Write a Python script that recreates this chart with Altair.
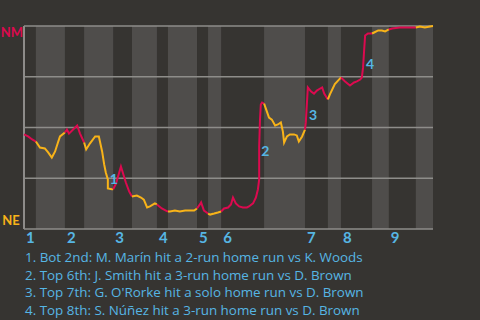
import altair as alt
import pandas as pd

RED = "#dc0a4f"
ORANGE = "#f8b319"
BLUE = "#56b6e4"
BG = "#363431"
BAND = "#4f4d4b"
GRID = "#8e8d8a"
FONT = "Lato"

# Half innings (x = game progress, %), T = NM batting, B = NE batting
half_names = ["T1", "B1", "T2", "B2", "T3", "B3", "T4", "B4", "T5", "B5",
              "T6", "B6", "T7", "B7", "T8", "B8", "T9", "B9"]
half_start = [0, 2.9, 10.0, 14.7, 21.8, 26.4, 32.5, 35.2, 42.3, 45.0,
              48.2, 58.7, 68.7, 74.3, 77.5, 85.1, 89.2, 95.8]
half_end = half_start[1:] + [100]

innings = ["1", "2", "3", "4", "5", "6", "7", "8", "9"]
inning_start = [0, 10.0, 21.8, 32.5, 42.3, 48.2, 68.7, 77.5, 89.2]

# NM win probability (%) per half inning
win_t = [
    [0, 1.0, 2.0, 2.9],
    [2.9, 3.9, 5.1, 5.9, 6.8, 7.6, 8.3, 8.8, 10.0],
    [10.0, 10.5, 11.0, 12.0, 13.0, 13.7, 14.7],
    [14.7, 15.2, 16.1, 17.4, 18.3, 19.1, 19.6, 20.0, 20.5, 20.5, 21.5, 21.8],
    [21.8, 22.5, 23.7, 24.9, 25.7, 26.4],
    [26.4, 27.6, 28.6, 29.3, 30.1, 30.8, 32.0, 32.5],
    [32.5, 33.7, 34.7, 35.2],
    [35.2, 35.7, 36.9, 38.1, 39.4, 40.6, 41.6, 42.3],
    [42.3, 43.0, 43.3, 44.0, 45.0],
    [45.0, 45.5, 46.5, 47.4, 48.2],
    [48.2, 48.9, 49.9, 50.6, 51.1, 51.8, 52.6, 53.5, 54.5, 55.0, 56.0, 56.7,
     57.2, 57.5, 57.5, 57.7, 57.9, 58.2, 58.7],
    [58.7, 59.2, 59.9, 60.6, 61.4, 62.1, 62.8, 63.3, 63.6, 64.3, 65.0, 66.0,
     66.7, 67.2, 68.0, 68.7],
    [68.7, 68.9, 69.4, 70.2, 70.9, 71.6, 72.4, 72.9, 73.4, 74.3],
    [74.3, 74.8, 76.0, 77.0, 77.5],
    [77.5, 78.5, 79.7, 80.7, 81.4, 82.2, 82.6, 82.9, 83.1, 83.4, 84.1, 85.1],
    [85.1, 85.6, 86.6, 87.5, 88.3, 89.2],
    [89.2, 90.0, 91.9, 94.4, 95.8],
    [95.8, 96.8, 98.0, 99.3, 100],
]
win_p = [
    [46.6, 45.6, 44.1, 43.1],
    [43.1, 40.1, 39.7, 37.7, 35.2, 38.2, 42.6, 45.6, 47.5],
    [47.5, 49.0, 47.0, 49.0, 51.0, 47.0, 42.6],
    [42.6, 39.2, 42.1, 45.6, 45.6, 38.2, 31.8, 27.8, 24.4, 20.0, 19.6, 19.6],
    [19.6, 22.4, 30.8, 22.9, 18.5, 16.0],
    [16.0, 16.5, 15.5, 14.5, 10.6, 11.1, 12.6, 12.1],
    [12.1, 10.1, 9.1, 8.6],
    [8.6, 8.6, 9.1, 8.6, 9.1, 9.1, 9.1, 10.1],
    [10.1, 12.1, 13.1, 9.1, 7.6],
    [7.6, 7.1, 7.6, 8.1, 8.6],
    [8.6, 10.1, 10.6, 12.1, 15.5, 12.6, 11.1, 10.6, 10.6, 11.1, 12.6, 15.5,
     19.6, 24.4, 40.6, 53.9, 61.3, 62.3, 61.8],
    [61.8, 58.9, 54.9, 53.9, 51.0, 51.5, 52.5, 48.0, 42.6, 45.6, 46.6, 46.6,
     46.1, 43.1, 45.6, 49.0],
    [49.0, 52.5, 69.7, 67.7, 66.7, 68.2, 69.2, 69.7, 66.7, 63.8],
    [63.8, 66.3, 71.4, 73.6, 74.6],
    [74.6, 72.7, 70.7, 72.2, 72.7, 73.6, 74.6, 79.6, 86.0, 95.3, 96.3, 96.3],
    [96.3, 96.8, 97.8, 97.8, 97.3, 98.3],
    [98.3, 98.8, 99.3, 99.3, 99.3],
    [99.3, 99.8, 99.3, 99.8, 100],
]

# Home run markers
event_num = ["1", "2", "3", "4"]
event_t = [20.5, 57.5, 69.2, 83.1]
event_p = [23.9, 37.7, 55.9, 81.0]

grid_p = [0, 25, 50, 75, 100]

footer = [
    "1. Bot 2nd: M. Marín hit a 2-run home run vs K. Woods",
    "2. Top 6th: J. Smith hit a 3-run home run vs D. Brown",
    "3. Top 7th: G. O'Rorke hit a solo home run vs D. Brown",
    "4. Top 8th: S. Núñez hit a 3-run home run vs D. Brown",
]

# ---- tables ----
rows = []
k = 0
for name, ts, ps in zip(half_names, win_t, win_p):
    team = "NM" if name.startswith("T") else "NE"
    for t, p in zip(ts, ps):
        rows.append({"i": k, "half": name, "team": team, "t": t, "p": p})
        k += 1
line_df = pd.DataFrame(rows)

band_df = pd.DataFrame({"half": half_names, "s": half_start, "e": half_end})
band_df = band_df[band_df["half"].str.startswith("B")]
inn_df = pd.DataFrame({"inning": innings, "s": inning_start})
ev_df = pd.DataFrame({"n": event_num, "t": event_t, "p": event_p})
grid_df = pd.DataFrame({"p": grid_p})

xs = alt.Scale(domain=[0, 100], nice=False, zero=False)
ys = alt.Scale(domain=[0, 100], nice=False, zero=False)

bands = alt.Chart(band_df).mark_rect(color=BAND).encode(
    x=alt.X("s:Q", scale=xs, axis=None),
    x2="e:Q",
    y=alt.Y(datum=0, scale=ys, axis=None),
    y2=alt.Y2(datum=100),
)

grid = alt.Chart(grid_df).mark_rule(color=GRID, strokeWidth=1.3).encode(
    y=alt.Y("p:Q", scale=ys, axis=None),
    x=alt.X(datum=0, scale=xs, axis=None),
    x2=alt.X2(datum=100),
)

left_axis = alt.Chart(grid_df).mark_rule(color=GRID, strokeWidth=1.3).encode(
    x=alt.X(datum=0, scale=xs, axis=None),
    y=alt.Y(datum=0, scale=ys, axis=None),
    y2=alt.Y2(datum=100),
)

line = alt.Chart(line_df).mark_line(strokeWidth=2).encode(
    x=alt.X("t:Q", scale=xs, axis=None),
    y=alt.Y("p:Q", scale=ys, axis=None),
    color=alt.Color("team:N", scale=alt.Scale(domain=["NM", "NE"], range=[RED, ORANGE]), legend=None),
    detail="half:N",
    order="i:Q",
)

inn_text = alt.Chart(inn_df).mark_text(
    align="left", baseline="middle", dx=2, dy=9, font=FONT, fontSize=15,
    fontWeight="bold", color=BLUE,
).encode(
    x=alt.X("s:Q", scale=xs, axis=None),
    y=alt.Y(datum=0, scale=ys, axis=None),
    text="inning:N",
)

ev_text = alt.Chart(ev_df).mark_text(
    align="left", baseline="middle", dx=2, font=FONT, fontSize=14,
    fontWeight="bold", color=BLUE,
).encode(
    x=alt.X("t:Q", scale=xs, axis=None),
    y=alt.Y("p:Q", scale=ys, axis=None),
    text="n:N",
)

nm_text = alt.Chart(pd.DataFrame({"lab": ["NM"]})).mark_text(
    align="center", baseline="middle", dx=-12, dy=7, font=FONT, fontSize=13,
    fontWeight="bold", color=RED,
).encode(
    x=alt.X(datum=0, scale=xs, axis=None),
    y=alt.Y(datum=100, scale=ys, axis=None),
    text="lab:N",
)

ne_text = alt.Chart(pd.DataFrame({"lab": ["NE"]})).mark_text(
    align="center", baseline="middle", dx=-13, dy=-8, font=FONT, fontSize=13,
    fontWeight="bold", color=ORANGE,
).encode(
    x=alt.X(datum=0, scale=xs, axis=None),
    y=alt.Y(datum=0, scale=ys, axis=None),
    text="lab:N",
)

chart = alt.layer(
    bands, grid, left_axis, line, ev_text, inn_text, nm_text, ne_text
).properties(
    width=409,
    height=203,
    autosize="none",
    padding={"left": 24, "top": 26, "right": 47, "bottom": 91},
    background=BG,
    title=alt.TitleParams(
        text=footer, orient="bottom", anchor="start", align="left",
        frame="group", color=BLUE, font="Open Sans", fontSize=13.4,
        fontWeight="normal", lineHeight=17.5, offset=5, dx=1,
    ),
).configure_view(stroke=None)

chart.save("out.html", embed_options={"renderer": "svg", "actions": False})
